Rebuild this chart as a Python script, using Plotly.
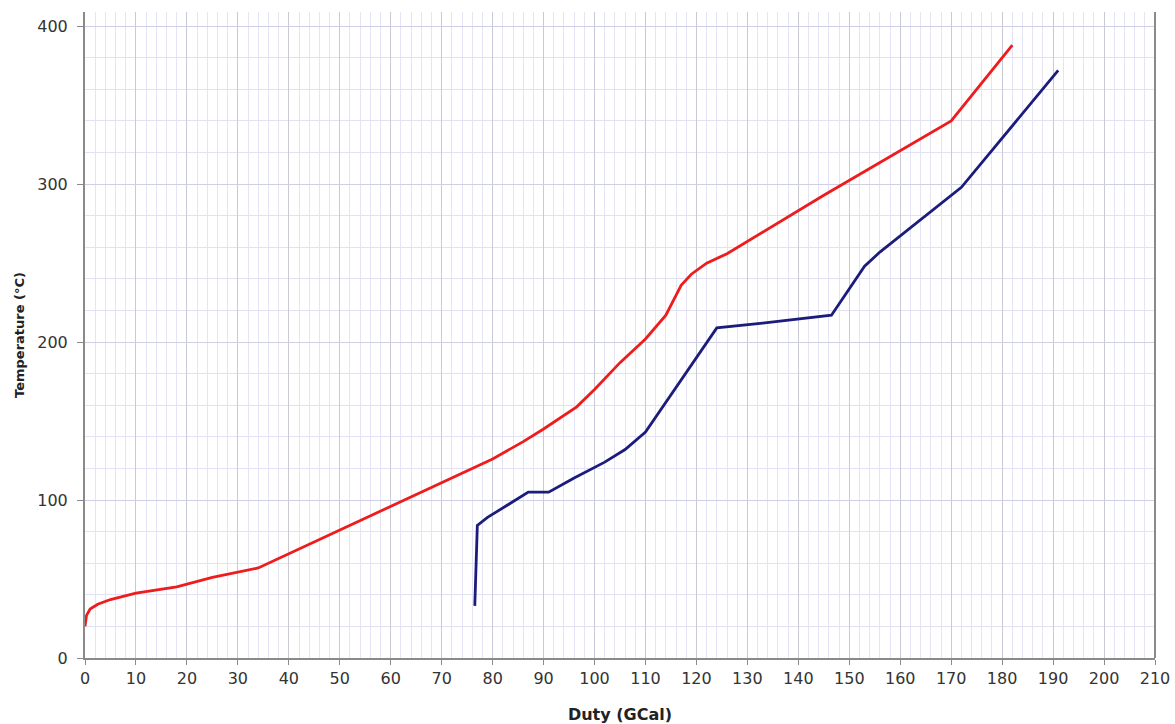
import plotly.graph_objects as go

# Hot composite curve: duty (GCal) vs temperature (°C)
hot_duty = [0, 0.3, 1, 2.5, 5, 10, 18, 25, 34, 42, 50, 66, 80, 86, 90, 96.5,
            100, 105, 110, 114, 117, 119, 122, 126, 145, 170, 182]
hot_temp = [20, 27, 31, 34, 37, 41, 45, 51, 57, 69, 81, 105, 126, 137, 145, 159,
            170, 187, 202, 217, 236, 243, 250, 256, 293, 340, 388]

# Cold composite curve
cold_duty = [76.5, 77, 79, 87, 91, 96, 102, 106, 110, 124, 133, 146.5, 153, 156, 172, 191]
cold_temp = [33, 84, 89, 105, 105, 114, 124, 132, 143, 209, 212, 217, 248, 257, 298, 372]

x_ticks = list(range(0, 211, 10))
y_ticks = [0, 100, 200, 300, 400]

fig = go.Figure()
fig.add_trace(go.Scatter(x=hot_duty, y=hot_temp, mode="lines",
                         line=dict(color="#ee1c1c", width=2.8), name="Hot"))
fig.add_trace(go.Scatter(x=cold_duty, y=cold_temp, mode="lines",
                         line=dict(color="#1c1c7c", width=2.8), name="Cold"))

font_family = "DejaVu Sans, Verdana, sans-serif"

fig.update_layout(
    width=1175, height=724,
    margin=dict(l=85, r=20, t=12, b=66),
    paper_bgcolor="white", plot_bgcolor="white",
    showlegend=False,
    font=dict(family=font_family, color="#333333"),
    xaxis=dict(
        range=[0, 210], tickvals=x_ticks, ticktext=[str(v) for v in x_ticks],
        automargin=False,
        showgrid=True, gridcolor="#c9c9d8", gridwidth=1,
        minor=dict(dtick=2, showgrid=True, gridcolor="#e4e4f6", gridwidth=1),
        showline=True, linecolor="#8a8a8a", linewidth=2,
        ticks="outside", ticklen=5, tickcolor="#8a8a8a",
        tickfont=dict(size=16, color="#333333"),
        title=dict(text="<b>Duty (GCal)</b>", font=dict(size=16, color="#222222"), standoff=22),
        zeroline=False, mirror=False,
    ),
    yaxis=dict(
        range=[0, 409], tickvals=y_ticks, ticktext=[str(v) for v in y_ticks],
        automargin=False,
        showgrid=True, gridcolor="#cfcfe6", gridwidth=1,
        minor=dict(dtick=20, showgrid=True, gridcolor="#e2e2f4", gridwidth=1),
        showline=True, linecolor="#8a8a8a", linewidth=2,
        ticks="outside", ticklen=6, tickcolor="#8a8a8a",
        ticklabelstandoff=6,
        tickfont=dict(size=16, color="#333333"),
        title=dict(text="<b>Temperature (°C)</b>", font=dict(size=13, color="#222222"), standoff=10),
        zeroline=False,
    ),
    shapes=[dict(type="line", xref="paper", yref="paper", x0=1, x1=1, y0=0, y1=1,
                 line=dict(color="#8a8a8a", width=2))],
)

fig.write_html("out.html")
